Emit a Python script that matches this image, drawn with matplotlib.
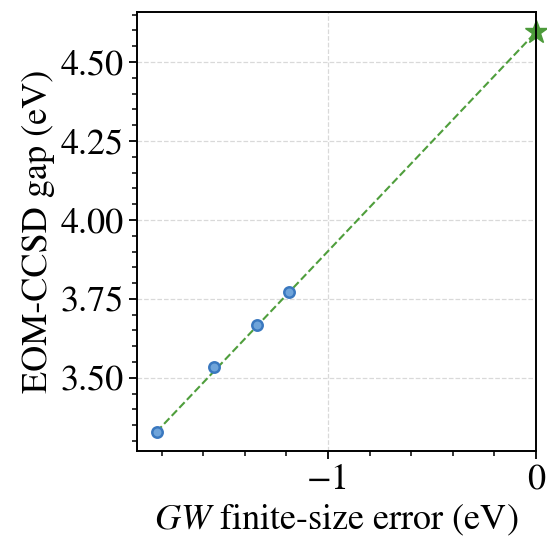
import matplotlib
matplotlib.use('Agg')
import matplotlib.pyplot as plt
import numpy as np
from matplotlib.ticker import MultipleLocator

# GW finite-size error (eV) and EOM-CCSD gap (eV)
gw_error = np.array([-1.825, -1.547, -1.343, -1.186])
eom_gap = np.array([3.329, 3.534, 3.668, 3.773])
# extrapolated point (zero finite-size error)
gw_extrap = [0.0]
gap_extrap = [4.595]

plt.rcParams['font.family'] = 'STIXGeneral'
plt.rcParams['mathtext.fontset'] = 'stix'

fig, ax = plt.subplots(figsize=(5.47, 5.39), dpi=100)

line_x = np.concatenate([gw_error[:1], gw_extrap])
line_y = np.concatenate([eom_gap[:1], gap_extrap])
ax.plot(line_x, line_y, '--', color='#4f9e3c', lw=1.5, zorder=2)
ax.plot(gw_error, eom_gap, 'o', ms=7.5, mfc='#6fa4da', mec='#3a78bf', mew=1.8, zorder=3)
ax.plot(gw_extrap, gap_extrap, '*', ms=17, color='#4c9a3a', clip_on=False, zorder=1.5)

ax.set_xlim(-1.92, 0.0)
ax.set_ylim(3.268, 4.657)
ax.xaxis.set_major_locator(MultipleLocator(1))
ax.xaxis.set_minor_locator(MultipleLocator(0.2))
ax.yaxis.set_major_locator(MultipleLocator(0.25))
ax.yaxis.set_minor_locator(MultipleLocator(0.05))
ax.yaxis.set_major_formatter(plt.FormatStrFormatter('%.2f'))
ax.grid(True, which='major', ls='--', color='#d9d9d9', lw=0.9)
ax.set_axisbelow(True)

ax.tick_params(which='major', labelsize=26, length=6, width=1.3)
ax.tick_params(which='minor', length=3.5, width=1.1)
for s in ax.spines.values():
    s.set_linewidth(1.4)

ax.set_xlabel('$GW$ finite-size error (eV)', fontsize=26)
ax.set_ylabel('EOM-CCSD gap (eV)', fontsize=26)

fig.subplots_adjust(left=0.25, right=0.98, top=0.977, bottom=0.163)
fig.savefig('out.png', dpi=100)
